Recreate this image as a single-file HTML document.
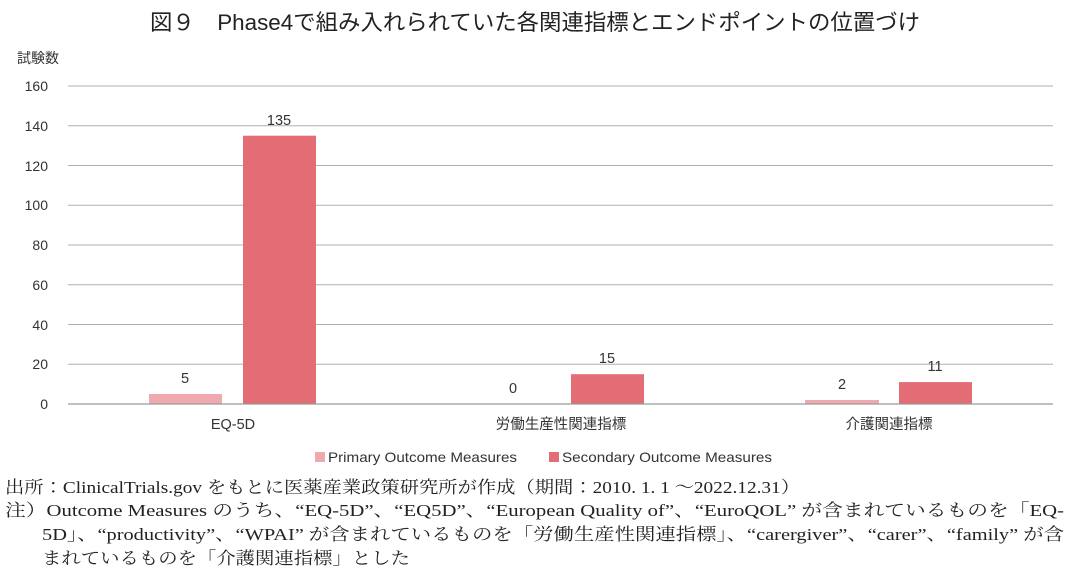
<!DOCTYPE html>
<html><head><meta charset="utf-8">
<style>
html,body{margin:0;padding:0;background:#fff;}
body{width:1074px;height:587px;overflow:hidden;position:relative;}
svg text{font-family:"Liberation Sans","Noto Sans CJK JP",sans-serif;}
svg text.n{font-family:"Liberation Serif","Noto Serif CJK JP",serif;font-size:17px;fill:#222;}
</style></head><body>
<svg width="1074" height="587" style="position:absolute;left:0;top:0">
<text x="150" y="30" font-size="22" fill="#222" textLength="770" lengthAdjust="spacingAndGlyphs">図９　Phase4で組み入れられていた各関連指標とエンドポイントの位置づけ</text>
<text x="17" y="63" font-size="14" fill="#333">試験数</text>
<g stroke="#b0b0b0" stroke-width="1">
<line x1="68" y1="86" x2="1053" y2="86"/>
<line x1="68" y1="125.75" x2="1053" y2="125.75"/>
<line x1="68" y1="165.5" x2="1053" y2="165.5"/>
<line x1="68" y1="205.25" x2="1053" y2="205.25"/>
<line x1="68" y1="245" x2="1053" y2="245"/>
<line x1="68" y1="284.75" x2="1053" y2="284.75"/>
<line x1="68" y1="324.5" x2="1053" y2="324.5"/>
<line x1="68" y1="364.25" x2="1053" y2="364.25"/>
</g>
<g font-size="14" fill="#333" text-anchor="end">
<text x="48" y="91">160</text><text x="48" y="131">140</text><text x="48" y="171">120</text>
<text x="48" y="210">100</text><text x="48" y="250">80</text><text x="48" y="290">60</text>
<text x="48" y="330">40</text><text x="48" y="369">20</text><text x="48" y="409">0</text>
</g>
<g fill="#f0a9af"><rect x="149" y="394" width="73" height="10"/><rect x="805" y="400" width="74" height="4"/></g>
<g fill="#e46c75"><rect x="243" y="135.7" width="73" height="268.3"/><rect x="571" y="374.2" width="73" height="29.8"/><rect x="899" y="382.1" width="73" height="21.9"/></g>
<line x1="68" y1="404" x2="1053" y2="404" stroke="#999" stroke-width="1.2"/>
<g font-size="14.5" fill="#333" text-anchor="middle">
<text x="185" y="383">5</text><text x="279" y="125">135</text>
<text x="513" y="393">0</text><text x="607" y="363">15</text>
<text x="842" y="389">2</text><text x="935" y="371">11</text>
<text x="233" y="429">EQ-5D</text><text x="561" y="429">労働生産性関連指標</text><text x="889" y="429">介護関連指標</text>
</g>
<rect x="315" y="452" width="10" height="10" fill="#f0a9af"/>
<text x="328" y="462" font-size="14" fill="#333" textLength="189" lengthAdjust="spacingAndGlyphs">Primary Outcome Measures</text>
<rect x="549" y="452" width="10" height="10" fill="#e46c75"/>
<text x="562" y="462" font-size="14" fill="#333" textLength="210" lengthAdjust="spacingAndGlyphs">Secondary Outcome Measures</text>
<text class="n" x="5" y="493" textLength="795" lengthAdjust="spacingAndGlyphs">出所：ClinicalTrials.gov をもとに医薬産業政策研究所が作成（期間：2010. 1. 1 ～2022.12.31）</text>
<text class="n" x="5" y="516" textLength="1059" lengthAdjust="spacingAndGlyphs">注）Outcome Measures のうち、“EQ-5D”、“EQ5D”、“European Quality of”、“EuroQOL” が含まれているものを「EQ-</text>
<text class="n" x="42" y="540" textLength="1022" lengthAdjust="spacingAndGlyphs">5D」、“productivity”、“WPAI” が含まれているものを「労働生産性関連指標」、“carergiver”、“carer”、“family” が含</text>
<text class="n" x="42" y="564" textLength="368" lengthAdjust="spacingAndGlyphs">まれているものを「介護関連指標」とした</text>
</svg>
</body></html>
